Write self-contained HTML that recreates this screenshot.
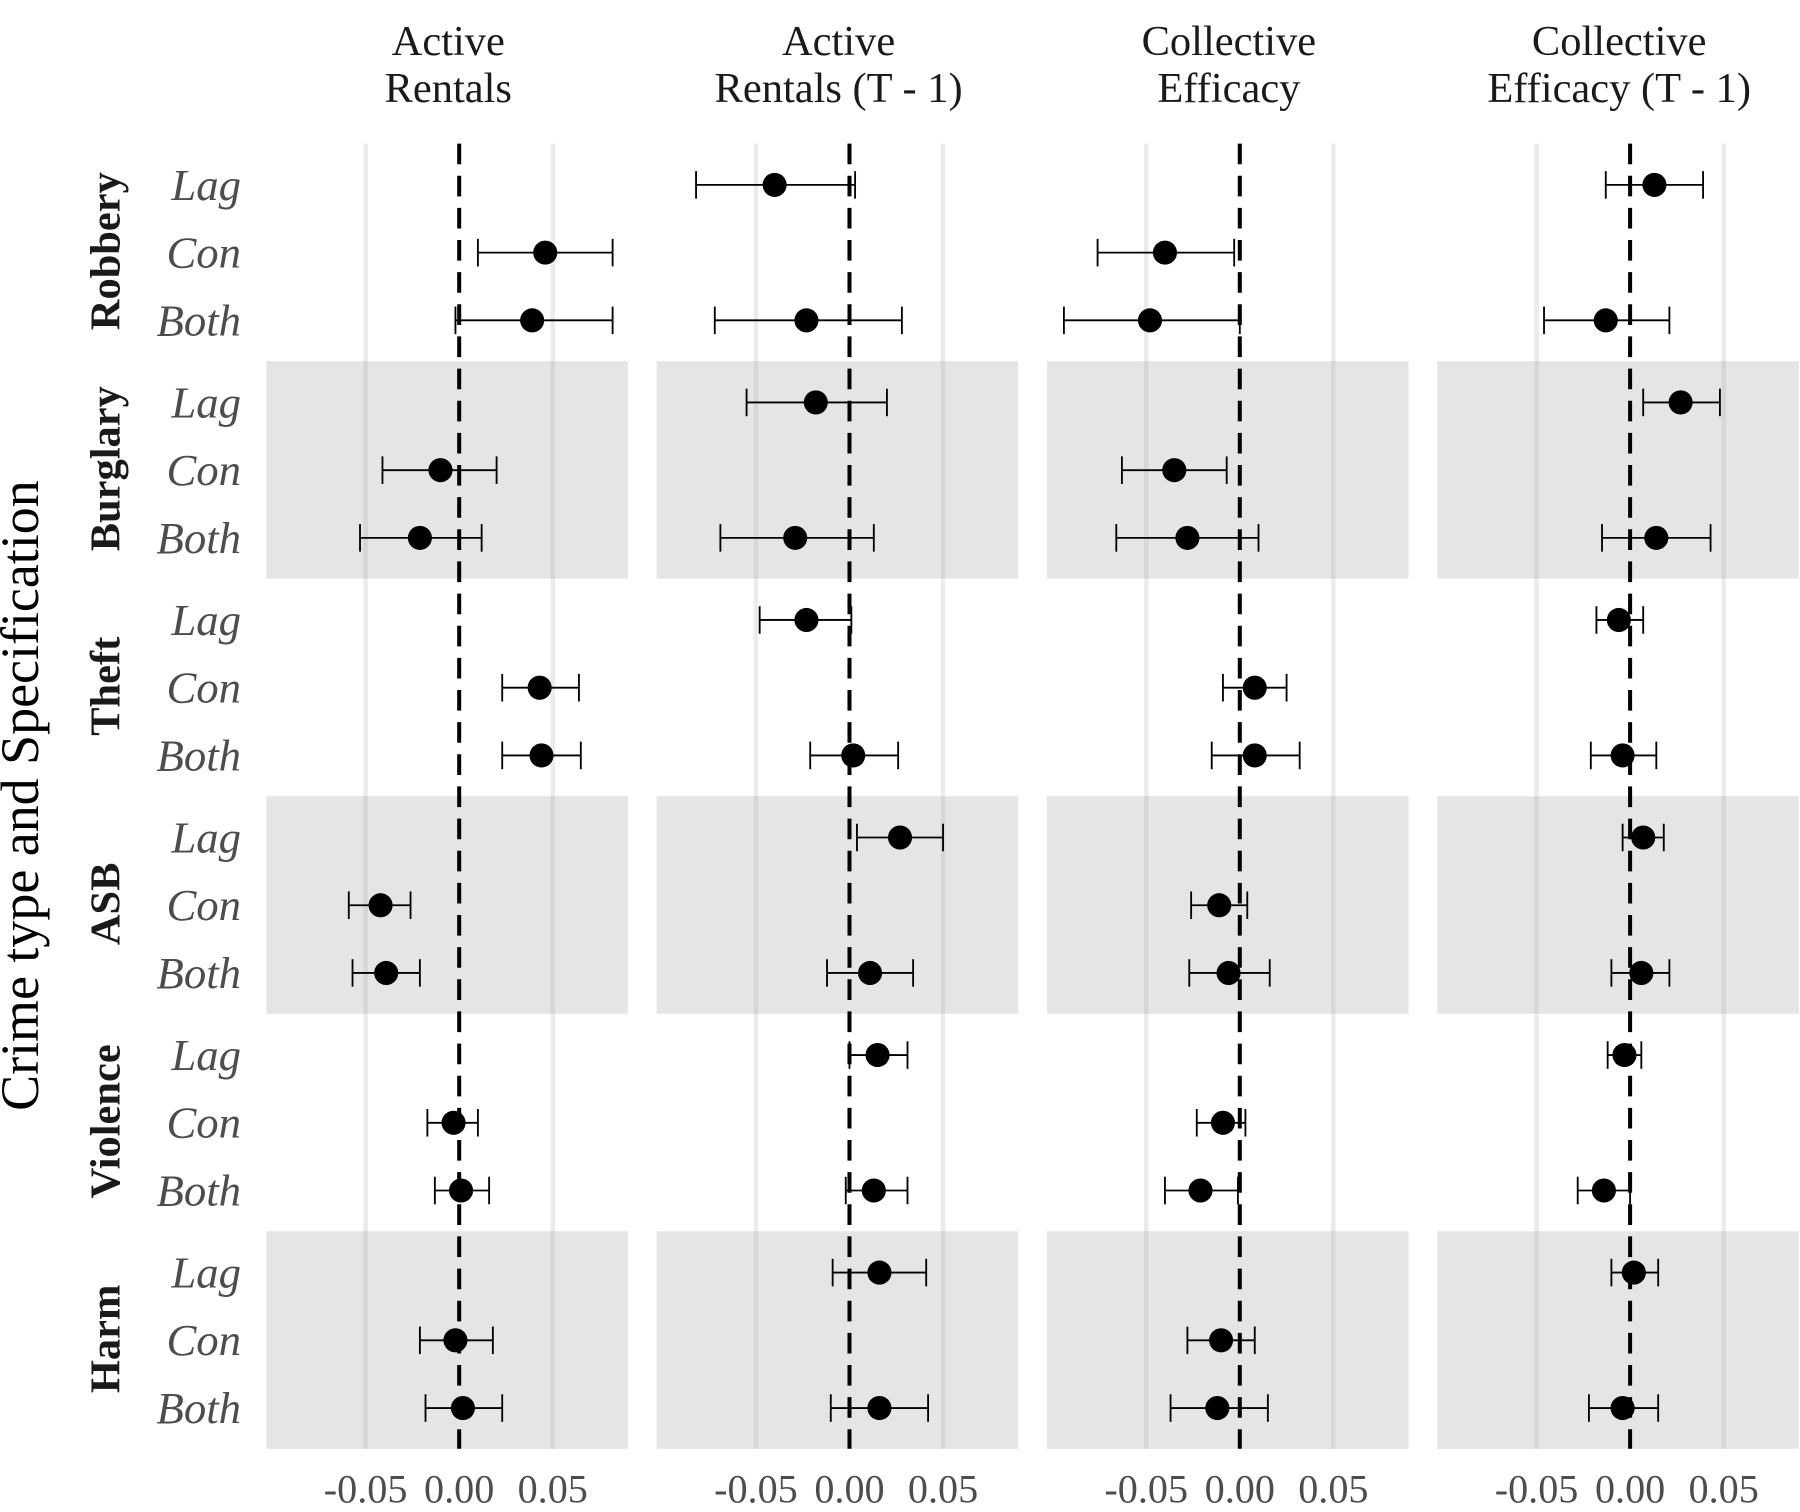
<!DOCTYPE html>
<html><head><meta charset="utf-8">
<style>html,body{margin:0;padding:0;background:#fff;}svg{display:block;}</style>
</head><body>
<svg id="chart" xmlns="http://www.w3.org/2000/svg" width="1800" height="1512" viewBox="0 0 1568 1317" font-family="Liberation Serif, serif">
<text x="0" y="0" transform="translate(33,693) rotate(-90)" text-anchor="middle" font-size="47" fill="#000">Crime type and Specification</text>
</svg>
<script>
const panels = ["Active|Rentals","Active|Rentals (T - 1)","Collective|Efficacy","Collective|Efficacy (T - 1)"];
const crimes = ["Robbery","Burglary","Theft","ASB","Violence","Harm"];
const specs = ["Lag","Con","Both"];
const ticks = [-0.05, 0, 0.05];
const tickLabels = ["-0.05","0.00","0.05"];
// [crime][spec] = [estimate, low, high] or null
const p1 = [[null,[0.046,0.010,0.082],[0.039,-0.002,0.082]],[null,[-0.010,-0.041,0.020],[-0.021,-0.053,0.012]],[null,[0.043,0.023,0.064],[0.044,0.023,0.065]],[null,[-0.042,-0.059,-0.026],[-0.039,-0.057,-0.021]],[null,[-0.003,-0.017,0.010],[0.001,-0.013,0.016]],[null,[-0.002,-0.021,0.018],[0.002,-0.018,0.023]]];
const p2 = [[[-0.040,-0.082,0.003],null,[-0.023,-0.072,0.028]],[[-0.018,-0.055,0.020],null,[-0.029,-0.069,0.013]],[[-0.023,-0.048,0.001],null,[0.002,-0.021,0.026]],[[0.027,0.004,0.050],null,[0.011,-0.012,0.034]],[[0.015,0.000,0.031],null,[0.013,-0.002,0.031]],[[0.016,-0.009,0.041],null,[0.016,-0.010,0.042]]];
const p3 = [[null,[-0.040,-0.076,-0.003],[-0.048,-0.094,0.000]],[null,[-0.035,-0.063,-0.007],[-0.028,-0.066,0.010]],[null,[0.008,-0.009,0.025],[0.008,-0.015,0.032]],[null,[-0.011,-0.026,0.004],[-0.006,-0.027,0.016]],[null,[-0.009,-0.023,0.003],[-0.021,-0.040,-0.001]],[null,[-0.010,-0.028,0.008],[-0.012,-0.037,0.015]]];
const p4 = [[[0.013,-0.013,0.039],null,[-0.013,-0.046,0.021]],[[0.027,0.007,0.048],null,[0.014,-0.015,0.043]],[[-0.006,-0.018,0.007],null,[-0.004,-0.021,0.014]],[[0.007,-0.004,0.018],null,[0.006,-0.010,0.021]],[[-0.003,-0.012,0.006],null,[-0.014,-0.028,0.000]],[[0.002,-0.010,0.015],null,[-0.004,-0.022,0.015]]];
const allData = [p1,p2,p3,p4];

const NS="http://www.w3.org/2000/svg";
const svg=document.getElementById('chart');
function mk(tag,attrs,parent){const e=document.createElementNS(NS,tag);for(const k in attrs)e.setAttribute(k,attrs[k]);(parent||svg).appendChild(e);return e;}
const panelLeft=232, panelW=315, panelGap=25, plotTop=125, groupH=189.5;
const pxPerUnit=1630, zeroOff=168;
function xScale(p,v){return panelLeft+p*(panelW+panelGap)+zeroOff+v*pxPerUnit;}
function yGroup(c){return plotTop+c*groupH;}
function yScale(c,s){return yGroup(c)+36+s*59;}
const plotBottom=yGroup(crimes.length);

crimes.forEach((c,ci)=>{
  const g=mk('text',{x:0,y:0,transform:`translate(104,${yGroup(ci)+groupH/2-1}) rotate(-90)`,'text-anchor':'middle','font-size':37,'font-weight':'bold',fill:'#1a1a1a'});
  
  
  g.textContent=c;
  specs.forEach((s,si)=>{
    const t=mk('text',{x:210,y:yScale(ci,si)+13,'text-anchor':'end','font-size':39,'font-style':'italic',fill:'#4d4d4d'});
    
    
    t.textContent=s;
  });
});

panels.forEach((title,p)=>{
  const x0=panelLeft+p*(panelW+panelGap);
  const g=mk('g',{});
  
  
  const lines=title.split('|');
  lines.forEach((l,i)=>{
    const t=mk('text',{x:x0+panelW/2+1,y:48+i*41,'text-anchor':'middle','font-size':37,fill:'#1a1a1a'},g);
    
    
    t.textContent=l;
  });
  crimes.forEach((c,ci)=>{
    if(ci%2===1){
      const r=mk('rect',{x:x0,y:yGroup(ci),width:panelW,height:groupH,fill:'#e5e5e5'},g);
      
      
    }
  });
  ticks.forEach((tv,ti)=>{
    const x=xScale(p,tv);
    if(tv!==0){
      crimes.forEach((c,ci)=>{
        const gl=mk('line',{x1:x,x2:x,y1:yGroup(ci),y2:yGroup(ci)+groupH,stroke:ci%2?'#d6d6d6':'#ebebeb','stroke-width':4},g);
        
        
      });
    }
    const t=mk('text',{x:x,y:1309,'text-anchor':'middle','font-size':35,fill:'#4d4d4d'},g);
    
    
    t.textContent=tickLabels[ti];
  });
  const zl=mk('line',{x1:xScale(p,0),x2:xScale(p,0),y1:plotTop,y2:plotBottom,stroke:'#000','stroke-width':3.5,'stroke-dasharray':'18 10'},g);
  
  
  allData[p].forEach((row,ci)=>{
    row.forEach((d,si)=>{
      if(!d)return;
      const y=yScale(ci,si), xl=xScale(p,d[1]), xh=xScale(p,d[2]), xe=xScale(p,d[0]);
      const eg=mk('g',{},g);
      
      
      mk('line',{x1:xl,x2:xh,y1:y,y2:y,stroke:'#000','stroke-width':1.6},eg);
      mk('line',{x1:xl,x2:xl,y1:y-12,y2:y+12,stroke:'#000','stroke-width':1.6},eg);
      mk('line',{x1:xh,x2:xh,y1:y-12,y2:y+12,stroke:'#000','stroke-width':1.6},eg);
      const pt=mk('circle',{cx:xe,cy:y,r:10.5,fill:'#000'},g);
      
      
    });
  });
});
</script>
</body></html>
